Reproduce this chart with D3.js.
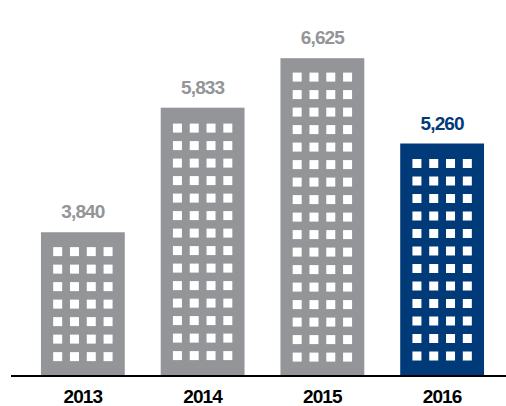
<!DOCTYPE html>
<html>
<head>
<meta charset="utf-8">
<script src="https://cdn.jsdelivr.net/npm/d3@7"></script>
<style>
  html, body { margin: 0; padding: 0; background: #fff; }
  svg { display: block; }
  .label { font-family: "Liberation Sans", Arial, sans-serif; font-weight: bold; font-size: 19px; letter-spacing: -0.9px; }
</style>
</head>
<body>
<div id="chart"></div>
<script>
// chart data
const years = ["2013", "2014", "2015", "2016"];
const values = [3840, 5833, 6625, 5260];
const highlightYear = "2016";

const width = 506, height = 406;
const baseline = 376;

const grey = "#939598", blue = "#003a78";

const svg = d3.select("#chart").append("svg")
    .attr("width", width).attr("height", height);

const x = d3.scaleBand()
    .domain(years)
    .range([23, 502])
    .paddingInner(0.3)
    .paddingOuter(0.15);

// infographic scale: bars do not start from zero
const y = d3.scaleLinear()
    .domain([1540, 6900])
    .range([baseline, baseline - 335]);

const data = years.map((yr, i) => ({year: yr, value: values[i]}));
const fmt = d3.format(",");

// window grid settings
const winSize = 9, colStep = 16.8, rowStep = 17.5, nCols = 4, winPad = 10;

const bars = svg.selectAll("g.bar")
    .data(data)
    .join("g")
    .attr("class", "bar")
    .attr("transform", d => `translate(${x(d.year)},0)`);

bars.append("rect")
    .attr("x", 0)
    .attr("y", d => y(d.value))
    .attr("width", x.bandwidth())
    .attr("height", d => baseline - y(d.value))
    .attr("fill", d => d.year === highlightYear ? blue : grey);

bars.each(function(d) {
    const h = baseline - y(d.value);
    const nRows = Math.floor((h - 2 * winPad + (rowStep - winSize)) / rowStep);
    const gridW = (nCols - 1) * colStep + winSize;
    const gridH = (nRows - 1) * rowStep + winSize;
    const x0 = (x.bandwidth() - gridW) / 2;
    const y0 = y(d.value) + (h - gridH) / 2;
    const cells = d3.cross(d3.range(nRows), d3.range(nCols));
    d3.select(this).selectAll("rect.win")
        .data(cells)
        .join("rect")
        .attr("class", "win")
        .attr("x", c => x0 + c[1] * colStep)
        .attr("y", c => y0 + c[0] * rowStep)
        .attr("width", winSize)
        .attr("height", winSize)
        .attr("fill", "#fff");
});

// value labels
bars.append("text")
    .attr("class", "label")
    .attr("x", x.bandwidth() / 2)
    .attr("y", d => y(d.value) - 14)
    .attr("text-anchor", "middle")
    .attr("fill", d => d.year === highlightYear ? blue : grey)
    .text(d => fmt(d.value));

// baseline
svg.append("line")
    .attr("x1", 11).attr("x2", width)
    .attr("y1", baseline).attr("y2", baseline)
    .attr("stroke", "#000")
    .attr("stroke-width", 2);

// year labels
svg.selectAll("text.year")
    .data(years)
    .join("text")
    .attr("class", "label year")
    .attr("x", d => x(d) + x.bandwidth() / 2)
    .attr("y", 402.5)
    .attr("text-anchor", "middle")
    .attr("fill", "#000")
    .text(d => d);
</script>
</body>
</html>
